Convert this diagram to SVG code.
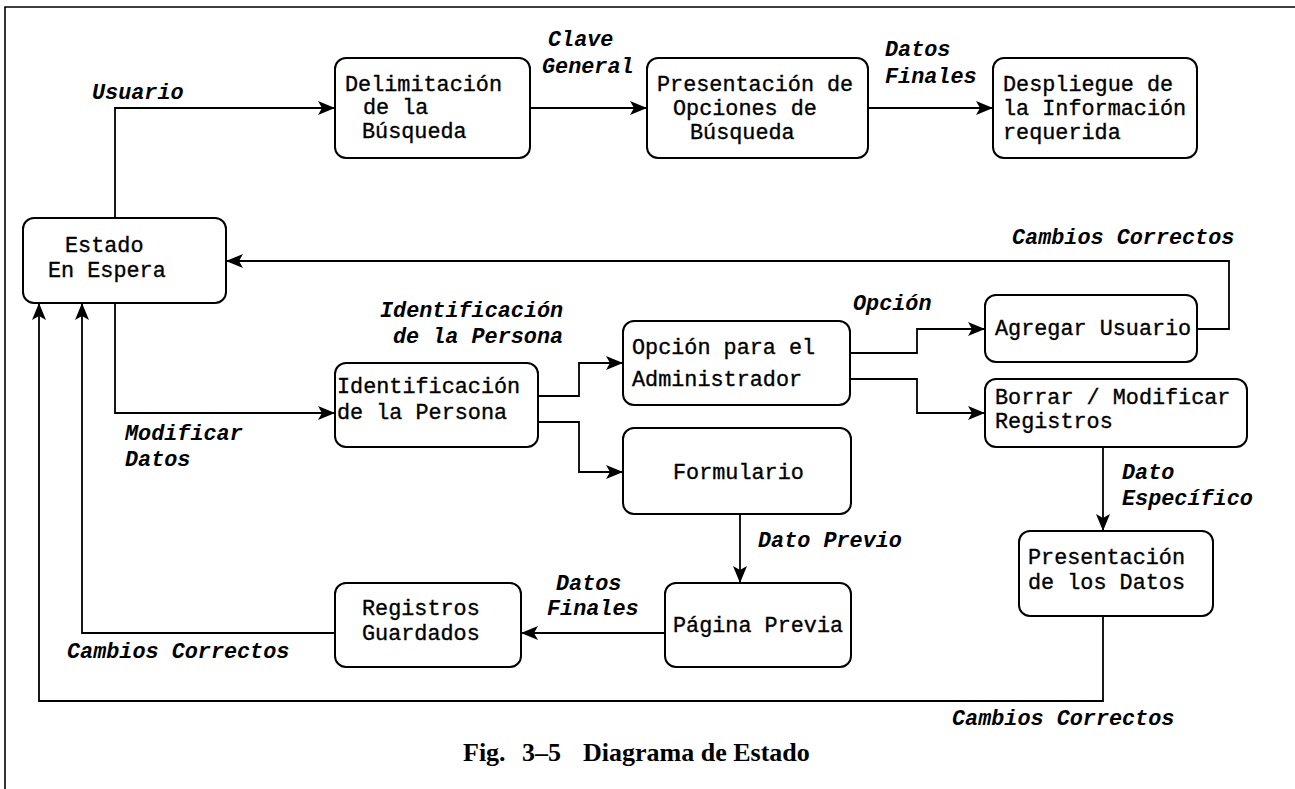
<svg xmlns="http://www.w3.org/2000/svg" width="1295" height="789" viewBox="0 0 1295 789">
  <style>
    .box { fill: #fff; stroke: #000; stroke-width: 2; }
    .wire { fill: none; stroke: #000; stroke-width: 1.8; }
    .t { font-family: "Liberation Mono", "Courier New", monospace; font-size: 21.8px; fill: #000; stroke: #000; stroke-width: 0.35; }
    .lbl { font-family: "Liberation Mono", "Courier New", monospace; font-size: 21.8px; font-style: italic; font-weight: bold; fill: #000; }
    .cap { font-family: "Liberation Serif", "Times New Roman", serif; font-size: 26px; font-weight: bold; fill: #000; }
  </style>
  <defs>
    <marker id="arrow" markerUnits="userSpaceOnUse" markerWidth="19" markerHeight="16" refX="17" refY="7" orient="auto">
      <path d="M0,0 L17,7 L0,14 L4,7 z" fill="#000"/>
    </marker>
  </defs>

  <rect width="1295" height="789" fill="#fff"/>
  <!-- page frame -->
  <path d="M5,789 V7 H1295" fill="none" stroke="#000" stroke-width="1.6"/>

  <!-- connectors -->
  <g id="connectors">
    <path class="wire" d="M115,218 V108 H335" marker-end="url(#arrow)"/>
    <path class="wire" d="M530,108 H647" marker-end="url(#arrow)"/>
    <path class="wire" d="M868,108 H993" marker-end="url(#arrow)"/>
    <path class="wire" d="M1197,329 H1229 V261 H226" marker-end="url(#arrow)"/>
    <path class="wire" d="M115,303 V413 H335" marker-end="url(#arrow)"/>
    <path class="wire" d="M538,396 H579 V363 H623" marker-end="url(#arrow)"/>
    <path class="wire" d="M538,422 H579 V472 H623" marker-end="url(#arrow)"/>
    <path class="wire" d="M850,353 H917 V329 H985" marker-end="url(#arrow)"/>
    <path class="wire" d="M850,379 H917 V413 H985" marker-end="url(#arrow)"/>
    <path class="wire" d="M1103,447 V531" marker-end="url(#arrow)"/>
    <path class="wire" d="M740,514 V583" marker-end="url(#arrow)"/>
    <path class="wire" d="M665,633 H521" marker-end="url(#arrow)"/>
    <path class="wire" d="M335,633 H82 V303" marker-end="url(#arrow)"/>
    <path class="wire" d="M1103,616 V701 H39 V303" marker-end="url(#arrow)"/>

    <text class="lbl" x="92" y="99">Usuario</text>
    <text class="lbl" x="548" y="46">Clave</text>
    <text class="lbl" x="542" y="73">General</text>
    <text class="lbl" x="885" y="56">Datos</text>
    <text class="lbl" x="885" y="83">Finales</text>
    <text class="lbl" x="1012" y="244">Cambios Correctos</text>
    <text class="lbl" x="380" y="317">Identificación</text>
    <text class="lbl" x="393" y="343">de la Persona</text>
    <text class="lbl" x="853" y="310">Opción</text>
    <text class="lbl" x="125" y="440">Modificar</text>
    <text class="lbl" x="125" y="466">Datos</text>
    <text class="lbl" x="758" y="547">Dato Previo</text>
    <text class="lbl" x="1122" y="479">Dato</text>
    <text class="lbl" x="1122" y="505">Específico</text>
    <text class="lbl" x="556" y="590">Datos</text>
    <text class="lbl" x="547" y="615">Finales</text>
    <text class="lbl" x="67" y="658">Cambios Correctos</text>
    <text class="lbl" x="952" y="725">Cambios Correctos</text>
  </g>

  <g id="estado-espera">
    <rect class="box" x="23" y="218" width="203" height="85" rx="11"/>
    <text class="t" x="65" y="252">Estado</text>
    <text class="t" x="48" y="277">En Espera</text>
  </g>

  <g id="delimitacion">
    <rect class="box" x="335" y="58" width="195" height="100" rx="11"/>
    <text class="t" x="345" y="91">Delimitación</text>
    <text class="t" x="363" y="114">de la</text>
    <text class="t" x="362" y="138">Búsqueda</text>
  </g>

  <g id="presentacion-opciones">
    <rect class="box" x="647" y="58" width="221" height="100" rx="11"/>
    <text class="t" x="657" y="91">Presentación de</text>
    <text class="t" x="673" y="115">Opciones de</text>
    <text class="t" x="690" y="139">Búsqueda</text>
  </g>

  <g id="despliegue">
    <rect class="box" x="993" y="58" width="204" height="100" rx="11"/>
    <text class="t" x="1003" y="91">Despliegue de</text>
    <text class="t" x="1003" y="115">la Información</text>
    <text class="t" x="1003" y="139">requerida</text>
  </g>

  <g id="identificacion">
    <rect class="box" x="335" y="363" width="203" height="84" rx="11"/>
    <text class="t" x="337" y="393">Identificación</text>
    <text class="t" x="337" y="419">de la Persona</text>
  </g>

  <g id="opcion-administrador">
    <rect class="box" x="623" y="321" width="227" height="84" rx="11"/>
    <text class="t" x="632" y="354">Opción para el</text>
    <text class="t" x="632" y="386">Administrador</text>
  </g>

  <g id="agregar-usuario">
    <rect class="box" x="985" y="295" width="212" height="67" rx="11"/>
    <text class="t" x="995" y="335">Agregar Usuario</text>
  </g>

  <g id="borrar-modificar">
    <rect class="box" x="985" y="379" width="262" height="68" rx="11"/>
    <text class="t" x="995" y="404">Borrar / Modificar</text>
    <text class="t" x="995" y="428">Registros</text>
  </g>

  <g id="formulario">
    <rect class="box" x="623" y="428" width="228" height="86" rx="11"/>
    <text class="t" x="673" y="479">Formulario</text>
  </g>

  <g id="presentacion-datos">
    <rect class="box" x="1019" y="531" width="194" height="85" rx="11"/>
    <text class="t" x="1028" y="564">Presentación</text>
    <text class="t" x="1028" y="589">de los Datos</text>
  </g>

  <g id="pagina-previa">
    <rect class="box" x="665" y="583" width="186" height="84" rx="11"/>
    <text class="t" x="673" y="632">Página Previa</text>
  </g>

  <g id="registros-guardados">
    <rect class="box" x="335" y="583" width="186" height="84" rx="11"/>
    <text class="t" x="362" y="615">Registros</text>
    <text class="t" x="362" y="640">Guardados</text>
  </g>

  <!-- caption -->
  <g id="caption">
    <text class="cap" x="463" y="761">Fig.</text>
    <text class="cap" x="522" y="761">3–5</text>
    <text class="cap" x="583" y="761">Diagrama de Estado</text>
  </g>
</svg>
